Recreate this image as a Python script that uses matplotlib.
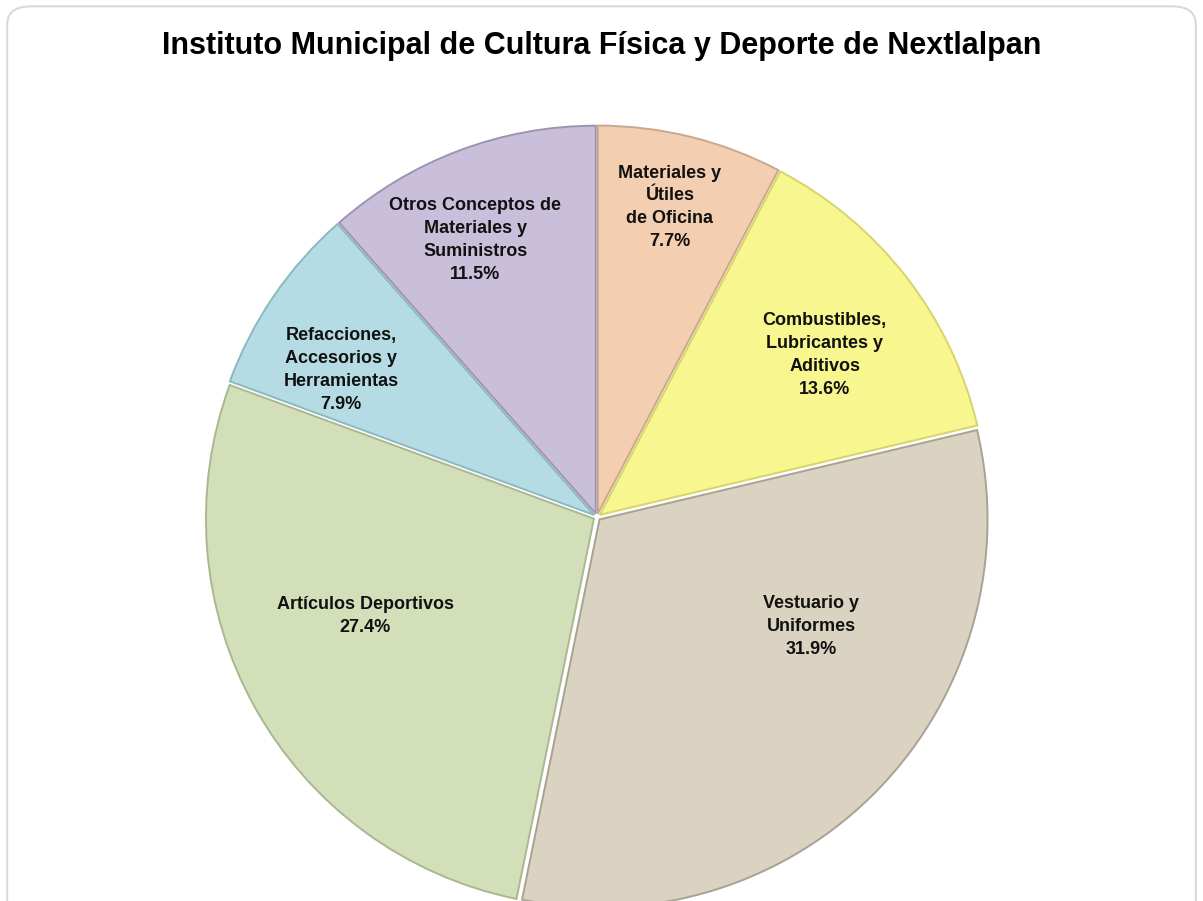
import matplotlib.pyplot as plt
from matplotlib.patches import FancyBboxPatch
import numpy as np

plt.rcParams['font.family'] = ['Liberation Sans', 'DejaVu Sans']

title = "Instituto Municipal de Cultura Física y Deporte de Nextlalpan"
categories = ["Materiales y\nÚtiles\nde Oficina",
              "Combustibles,\nLubricantes y\nAditivos",
              "Vestuario y\nUniformes",
              "Artículos Deportivos",
              "Refacciones,\nAccesorios y\nHerramientas",
              "Otros Conceptos de\nMateriales y\nSuministros"]
shares = [7.7, 13.6, 31.9, 27.4, 7.9, 11.5]
colors = ["#F3CEB1", "#F8F68F", "#DAD3C1", "#D3DFB8", "#B5DCE4", "#C9BFDA"]
edges = ["#C9A98E", "#D8D46A", "#A9A292", "#A9B890", "#8DB8C0", "#9E94B2"]

# label placement: fraction of radius and angle nudge (deg)
label_r = [0.82, 0.72, 0.62, 0.65, 0.76, 0.78]
label_da = [0.6, -2.4, 17, -6, 4.5, 3]

fig = plt.figure(figsize=(12.03, 9.01), dpi=100)
fig.patches.append(FancyBboxPatch((0.006, -0.05), 0.988, 1.043,
                                  boxstyle="round,pad=0,rounding_size=0.02",
                                  transform=fig.transFigure, facecolor="none",
                                  edgecolor="#D9D9D9", linewidth=1.5, zorder=5))
fig.text(0.5, 0.949, title, ha="center", va="center", fontsize=22,
         fontweight="bold", color="black")

R = 388.0
ax = fig.add_axes([0, 0, 1, 1])

# explode is in data units here (pixels), gives the thin white gaps
wedges, _ = ax.pie(shares, colors=colors, startangle=90, counterclock=False,
                   radius=R, explode=[3.5] * len(shares),
                   wedgeprops=dict(linewidth=1.4))
for w, ec in zip(wedges, edges):
    w.set_edgecolor(ec)

for w, lab, pct, rf, da in zip(wedges, categories, shares, label_r, label_da):
    mid = np.deg2rad((w.theta1 + w.theta2) / 2 + da)
    ax.text(rf * R * np.cos(mid), rf * R * np.sin(mid), f"{lab}\n{pct}%",
            ha="center", va="center", fontsize=13, fontweight="bold",
            linespacing=1.45, color="#111111")

ax.set_xlim(-597, 1203 - 597)
ax.set_ylim(-(901 - 517), 517)
ax.set_aspect("equal")
ax.axis("off")

fig.savefig("out.png", dpi=100)
